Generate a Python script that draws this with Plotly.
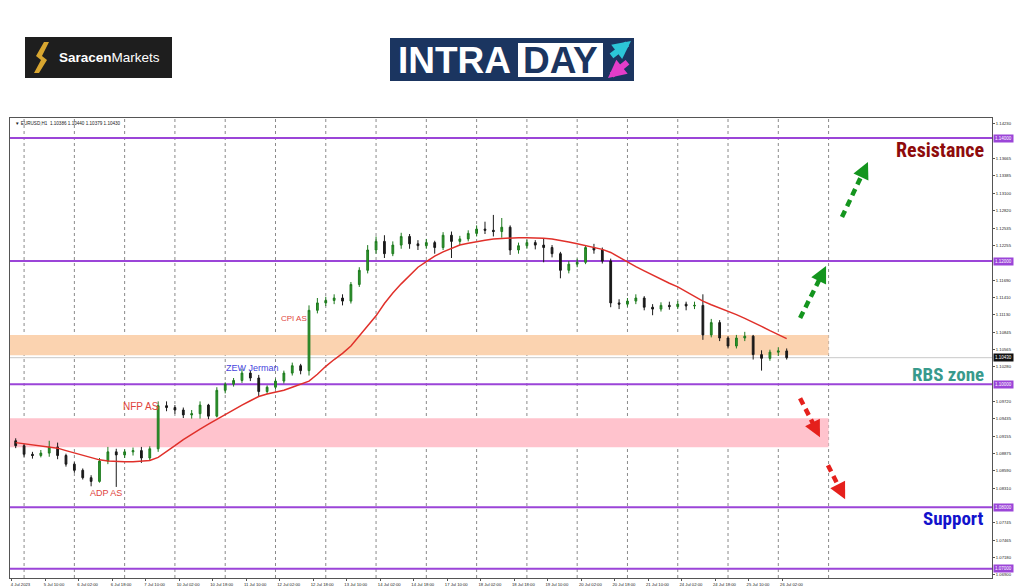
import plotly.graph_objects as go

# ---------------- data ----------------
# candle position: H1-bar index counted from 4 Jul 18:00 (4-hour candles)
hours = list(range(2, 372, 4))

open_ = [1.0908, 1.0900, 1.0886, 1.0884, 1.0888, 1.0898, 1.0884, 1.0870, 1.0860, 1.0848,
         1.0842, 1.0875, 1.0890, 1.0885, 1.0890, 1.0892, 1.0880, 1.0895, 1.0965, 1.0962,
         1.0958, 1.0950, 1.0952, 1.0966, 1.0948, 1.0990, 1.1000, 1.1006, 1.1018, 1.1010,
         1.0988, 1.0995, 1.1005, 1.1018, 1.1030, 1.1022, 1.1120, 1.1132, 1.1136, 1.1140,
         1.1135, 1.1162, 1.1185, 1.1218, 1.1232, 1.1212, 1.1226, 1.1240, 1.1228, 1.1225,
         1.1230, 1.1222, 1.1242, 1.1232, 1.1236, 1.1245, 1.1252, 1.1250, 1.1248, 1.1255,
         1.1218, 1.1225, 1.1230, 1.1226, 1.1222, 1.1212, 1.1185, 1.1195, 1.1198, 1.1222,
         1.1218, 1.1200, 1.1132, 1.1130, 1.1135, 1.1140, 1.1125, 1.1122, 1.1128, 1.1126,
         1.1130, 1.1127, 1.1128, 1.1080, 1.1100, 1.1075, 1.1062, 1.1075, 1.1078, 1.1048,
         1.1042, 1.1052, 1.1054]
high = [1.0912, 1.0903, 1.0890, 1.0893, 1.0908, 1.0905, 1.0887, 1.0873, 1.0863, 1.0852,
        1.0880, 1.0898, 1.0895, 1.0894, 1.0897, 1.0898, 1.0899, 1.0972, 1.0972, 1.0966,
        1.0962, 1.0958, 1.0972, 1.0968, 1.0995, 1.1003, 1.1010, 1.1025, 1.1022, 1.1015,
        1.0998, 1.1009, 1.1022, 1.1035, 1.1033, 1.1128, 1.1140, 1.1142, 1.1146, 1.1146,
        1.1166, 1.1190, 1.1226, 1.1240, 1.1242, 1.1232, 1.1246, 1.1244, 1.1234, 1.1236,
        1.1233, 1.1247, 1.1248, 1.1241, 1.1250, 1.1258, 1.1264, 1.1275, 1.1270, 1.1258,
        1.1230, 1.1235, 1.1234, 1.1237, 1.1226, 1.1215, 1.1200, 1.1204, 1.1226, 1.1228,
        1.1222, 1.1204, 1.1138, 1.1140, 1.1146, 1.1143, 1.1130, 1.1133, 1.1134, 1.1135,
        1.1134, 1.1134, 1.1146, 1.1106, 1.1104, 1.1078, 1.1080, 1.1085, 1.1080, 1.1055,
        1.1056, 1.1060, 1.1058]
low = [1.0896, 1.0882, 1.0879, 1.0881, 1.0882, 1.0878, 1.0866, 1.0856, 1.0845, 1.0834,
       1.0840, 1.0870, 1.0833, 1.0880, 1.0884, 1.0872, 1.0876, 1.0890, 1.0956, 1.0952,
       1.0945, 1.0944, 1.0944, 1.0943, 1.0946, 1.0985, 1.0996, 1.1002, 1.1005, 1.0980,
       1.0984, 1.0992, 1.1001, 1.1014, 1.1016, 1.1014, 1.1115, 1.1127, 1.1130, 1.1128,
       1.1131, 1.1158, 1.1180, 1.1212, 1.1205, 1.1208, 1.1220, 1.1220, 1.1218, 1.1220,
       1.1212, 1.1218, 1.1205, 1.1226, 1.1232, 1.1240, 1.1244, 1.1240, 1.1238, 1.1210,
       1.1212, 1.1220, 1.1219, 1.1198, 1.1206, 1.1172, 1.1180, 1.1190, 1.1195, 1.1212,
       1.1196, 1.1125, 1.1122, 1.1126, 1.1130, 1.1120, 1.1112, 1.1118, 1.1121, 1.1122,
       1.1120, 1.1122, 1.1072, 1.1076, 1.1070, 1.1058, 1.1058, 1.1070, 1.1040, 1.1022,
       1.1038, 1.1046, 1.1040]
close = [1.0900, 1.0886, 1.0884, 1.0888, 1.0898, 1.0884, 1.0870, 1.0860, 1.0848, 1.0842,
         1.0875, 1.0890, 1.0885, 1.0890, 1.0892, 1.0880, 1.0895, 1.0965, 1.0962, 1.0958,
         1.0950, 1.0952, 1.0966, 1.0948, 1.0990, 1.1000, 1.1006, 1.1018, 1.1010, 1.0988,
         1.0995, 1.1005, 1.1018, 1.1030, 1.1022, 1.1120, 1.1132, 1.1136, 1.1140, 1.1135,
         1.1162, 1.1185, 1.1218, 1.1232, 1.1212, 1.1226, 1.1240, 1.1228, 1.1225, 1.1230,
         1.1222, 1.1242, 1.1232, 1.1236, 1.1245, 1.1252, 1.1250, 1.1248, 1.1255, 1.1218,
         1.1225, 1.1230, 1.1226, 1.1222, 1.1212, 1.1185, 1.1195, 1.1198, 1.1222, 1.1218,
         1.1200, 1.1132, 1.1130, 1.1135, 1.1140, 1.1125, 1.1122, 1.1128, 1.1126, 1.1130,
         1.1127, 1.1128, 1.1080, 1.1100, 1.1075, 1.1062, 1.1075, 1.1078, 1.1048, 1.1042,
         1.1052, 1.1054, 1.1043]
moving_avg = [1.0905, 1.0903, 1.0901, 1.0900, 1.0898, 1.0896, 1.0892, 1.0888, 1.0884, 1.0880,
              1.0877, 1.0875, 1.0874, 1.0874, 1.0874, 1.0875, 1.0876, 1.0881, 1.0890, 1.0900,
              1.0910, 1.0919, 1.0927, 1.0935, 1.0943, 1.0951, 1.0959, 1.0966, 1.0973, 1.0980,
              1.0984, 1.0987, 1.0990, 1.0995, 1.1000, 1.1005, 1.1016, 1.1029, 1.1040, 1.1050,
              1.1062, 1.1078, 1.1094, 1.1111, 1.1131, 1.1148, 1.1163, 1.1177, 1.1190, 1.1199,
              1.1208, 1.1215, 1.1221, 1.1226, 1.1229, 1.1232, 1.1234, 1.1236, 1.1237, 1.1238,
              1.1238, 1.1238, 1.1238, 1.1237, 1.1236, 1.1234, 1.1231, 1.1228, 1.1225, 1.1222,
              1.1219, 1.1214, 1.1206, 1.1198, 1.1191, 1.1184, 1.1177, 1.1170, 1.1164, 1.1158,
              1.1150, 1.1143, 1.1135, 1.1129, 1.1124, 1.1118, 1.1113, 1.1107, 1.1101, 1.1094,
              1.1087, 1.1080, 1.1074]

level_lines = [1.14, 1.12, 1.10, 1.08, 1.07]
bid_price = 1.1043
supply_zone = [1.1047, 1.1080]     # orange band
demand_zone = [1.08976, 1.09447]   # pink band

x_tick_pos = [0] + [16 + 16 * k for k in range(23)]
x_tick_text = ["4 Jul 2023", "5 Jul 10:00", "6 Jul 02:00", "6 Jul 18:00", "7 Jul 10:00",
               "10 Jul 02:00", "10 Jul 18:00", "11 Jul 10:00", "12 Jul 02:00", "12 Jul 18:00",
               "13 Jul 10:00", "14 Jul 02:00", "14 Jul 18:00", "17 Jul 10:00", "18 Jul 02:00",
               "18 Jul 18:00", "19 Jul 10:00", "20 Jul 02:00", "20 Jul 18:00", "21 Jul 10:00",
               "24 Jul 02:00", "24 Jul 18:00", "25 Jul 10:00", "26 Jul 02:00"]
day_lines = [6 + 24 * k for k in range(17)]
# scale labels (those hidden behind the level boxes are left out)
y_ticks = [1.06900, 1.07180, 1.07465, 1.07745, 1.08310, 1.08590, 1.08875, 1.09155,
           1.09435, 1.09720, 1.10280, 1.10565, 1.10845, 1.11130, 1.11410, 1.11690,
           1.12255, 1.12535, 1.12820, 1.13100, 1.13385, 1.13665, 1.14230]

events = [("CPI AS", 135, 1.1107, "#E0443C", 8),
          ("NFP AS", 62, 1.0963, "#E0443C", 10),
          ("ADP AS", 45, 1.0823, "#E0443C", 9),
          ("ZEW Jerman", 115, 1.1026, "#4545DD", 9)]
# dashed scenario arrows: (tail x, tail y, head x, head y, colour)
scenario_arrows = [(396.4, 1.12715, 408.8, 1.13610, "#14951E"),
                   (376.4, 1.11073, 388.8, 1.11919, "#14951E"),
                   (376.4, 1.09772, 385.9, 1.09138, "#E5201C"),
                   (389.7, 1.08683, 397.9, 1.08130, "#E5201C")]

# ---------------- figure ----------------
W, H = 1024, 587
L, R, T, B = 10, 32, 118, 9
X_RANGE = [-0.72, 468.0]
Y_RANGE = [1.0685, 1.14325]


def pxx(x):
    return (x - L) / (W - L - R)


def pxy(y):
    return (H - B - y) / (H - T - B)


fig = go.Figure()
fig.add_trace(go.Candlestick(
    x=hours, open=open_, high=high, low=low, close=close,
    increasing=dict(line=dict(color="#1E7A1E", width=1), fillcolor="#2E9A2E"),
    decreasing=dict(line=dict(color="#1A1A1A", width=1), fillcolor="#1A1A1A"),
    whiskerwidth=0, showlegend=False, hoverinfo="skip"))
fig.add_trace(go.Scatter(x=hours, y=moving_avg, mode="lines",
                         line=dict(color="#E0302A", width=1.5),
                         showlegend=False, hoverinfo="skip"))

shapes = []
for d in day_lines:
    shapes.append(dict(type="line", xref="x", yref="paper", x0=d, x1=d, y0=0, y1=1,
                       line=dict(color="#8A8A8A", width=1, dash="dot"), layer="below"))
shapes.append(dict(type="rect", xref="x", yref="y", x0=X_RANGE[0], x1=390,
                   y0=supply_zone[0], y1=supply_zone[1], fillcolor="#FBD3B0",
                   line=dict(width=0), layer="below"))
shapes.append(dict(type="rect", xref="x", yref="y", x0=X_RANGE[0], x1=390,
                   y0=demand_zone[0], y1=demand_zone[1], fillcolor="#FFC3CD",
                   line=dict(width=0), layer="below"))
shapes.append(dict(type="line", xref="paper", yref="y", x0=0, x1=1, y0=bid_price, y1=bid_price,
                   line=dict(color="#C8C8C8", width=1), layer="below"))
for lv in level_lines:
    shapes.append(dict(type="line", xref="paper", yref="y", x0=0, x1=1, y0=lv, y1=lv,
                       line=dict(color="#9B45D8", width=2), layer="below"))

annotations = []
for tx, ty, hx, hy, col in scenario_arrows:
    # stop the dashed shaft a little before the tip
    sx = tx + (hx - tx) * 0.8
    sy = ty + (hy - ty) * 0.8
    shapes.append(dict(type="line", xref="x", yref="y", x0=tx, y0=ty, x1=sx, y1=sy,
                       line=dict(color=col, width=4.5, dash="7px,5px")))
    annotations.append(dict(x=hx, y=hy, xref="x", yref="y", ax=sx, ay=sy,
                            axref="x", ayref="y", text="", showarrow=True,
                            arrowhead=2, arrowsize=1.1, arrowwidth=3, arrowcolor=col))

for txt, xi, yi, col, fs in events:
    annotations.append(dict(x=xi, y=yi, xref="x", yref="y", text=txt, showarrow=False,
                            xanchor="center", yanchor="middle",
                            font=dict(color=col, size=fs, family="Arial")))

big_font = "Roboto Condensed, DejaVu Sans Condensed, Liberation Sans Narrow, Arial Narrow, Arial"
annotations.append(dict(x=465.2, y=1.13805, xref="x", yref="y", xanchor="right",
                        yanchor="middle", text="<b>Resistance</b>", showarrow=False,
                        font=dict(color="#8E0B0B", size=20, family=big_font)))
annotations.append(dict(x=465.2, y=1.1015, xref="x", yref="y", xanchor="right",
                        yanchor="middle", text="<b>RBS zone</b>", showarrow=False,
                        font=dict(color="#389A8C", size=19, family=big_font)))
annotations.append(dict(x=465.2, y=1.0782, xref="x", yref="y", xanchor="right",
                        yanchor="middle", text="<b>Support</b>", showarrow=False,
                        font=dict(color="#1212CC", size=19, family=big_font)))

# price boxes on the right scale
for lv in level_lines:
    annotations.append(dict(x=1, y=lv, xref="paper", yref="y", xanchor="left", xshift=1,
                            yanchor="middle", text=f"{lv:.5f}", showarrow=False,
                            bgcolor="#9B45D8", borderpad=1,
                            font=dict(color="white", size=4.5, family="Arial")))
annotations.append(dict(x=1, y=bid_price, xref="paper", yref="y", xanchor="left", xshift=1,
                        yanchor="middle", text=f"{bid_price:.5f}", showarrow=False,
                        bgcolor="#111111", borderpad=1,
                        font=dict(color="white", size=4.5, family="Arial")))

# chart header
annotations.append(dict(x=pxx(13), y=pxy(123), xref="paper", yref="paper", xanchor="left",
                        yanchor="middle", showarrow=False,
                        text="\u25BC EURUSD,H1  1.10386 1.10440 1.10379 1.10430",
                        font=dict(color="#222", size=4.6, family="Arial")))

# ---------- logos ----------
shapes.append(dict(type="rect", xref="paper", yref="paper", x0=pxx(25), x1=pxx(172),
                   y0=pxy(78), y1=pxy(37), fillcolor="#1E1E1E", line=dict(width=0)))
s_pts = [(44, 42), (49, 42), (42, 56), (47, 60), (39, 73), (34, 73), (41, 60), (36, 56)]
s_path = "M " + " L ".join(f"{pxx(a):.5f},{pxy(b):.5f}" for a, b in s_pts) + " Z"
shapes.append(dict(type="path", xref="paper", yref="paper", path=s_path,
                   fillcolor="#D8A630", line=dict(width=0)))
annotations.append(dict(x=pxx(57), y=pxy(57.5), xref="paper", yref="paper", xanchor="left",
                        yanchor="middle", showarrow=False, text="<b>Saracen</b>Markets",
                        font=dict(color="white", size=13.5, family="Arial")))

shapes.append(dict(type="rect", xref="paper", yref="paper", x0=pxx(390), x1=pxx(634),
                   y0=pxy(81), y1=pxy(38), fillcolor="#1B3560", line=dict(width=0)))
shapes.append(dict(type="rect", xref="paper", yref="paper", x0=pxx(518), x1=pxx(603),
                   y0=pxy(77), y1=pxy(43), fillcolor="white", line=dict(width=0)))
annotations.append(dict(x=pxx(396), y=pxy(60), xref="paper", yref="paper", xanchor="left",
                        yanchor="middle", showarrow=False, text="<b>INTRA</b>",
                        font=dict(color="white", size=37, family="Arial")))
annotations.append(dict(x=pxx(560.5), y=pxy(60), xref="paper", yref="paper", xanchor="center",
                        yanchor="middle", showarrow=False, text="<b>DAY</b>",
                        font=dict(color="#1B3560", size=37, family="Arial")))
annotations.append(dict(x=pxx(631), y=pxy(41), xref="paper", yref="paper", ax=-21, ay=16,
                        text="", showarrow=True, arrowhead=2, arrowsize=0.6, arrowwidth=6,
                        arrowcolor="#2CC6D8"))
annotations.append(dict(x=pxx(608), y=pxy(78), xref="paper", yref="paper", ax=21, ay=-17,
                        text="", showarrow=True, arrowhead=2, arrowsize=0.6, arrowwidth=6,
                        arrowcolor="#E43DC9"))

fig.update_layout(
    width=W, height=H, margin=dict(l=L, r=R, t=T, b=B),
    paper_bgcolor="white", plot_bgcolor="white", boxgap=0.7,
    shapes=shapes, annotations=annotations, showlegend=False,
    xaxis=dict(range=X_RANGE, rangeslider=dict(visible=False), showgrid=False,
               zeroline=False, tickmode="array", tickvals=x_tick_pos, ticktext=x_tick_text,
               tickfont=dict(size=4.2, color="#222", family="Arial"), ticks="outside",
               ticklen=2, tickcolor="#555", ticklabelshift=9, automargin=False,
               showline=True, mirror=True, linecolor="#555", linewidth=1),
    yaxis=dict(range=Y_RANGE, side="right", showgrid=False, zeroline=False,
               tickmode="array", tickvals=y_ticks, ticktext=[f"{v:.5f}" for v in y_ticks],
               tickfont=dict(size=4.2, color="#222", family="Arial"), ticks="outside",
               ticklen=2, tickcolor="#555", automargin=False,
               showline=True, mirror=True, linecolor="#555", linewidth=1),
)

fig.write_html("out.html", config={"displayModeBar": False},
               post_script="document.body.style.margin='0px';")
